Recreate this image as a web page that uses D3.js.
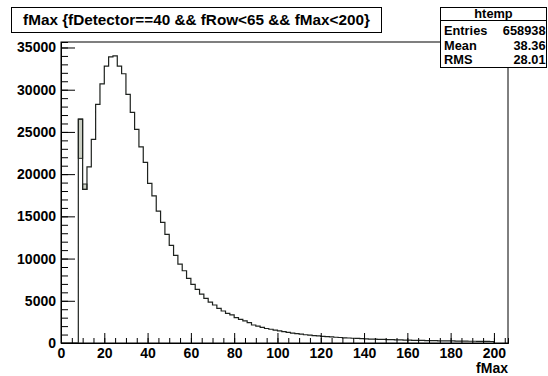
<!DOCTYPE html>
<html>
<head>
<meta charset="utf-8">
<script src="https://cdn.jsdelivr.net/npm/d3@7"></script>
<style>
  html, body { margin: 0; padding: 0; background: #fff; }
  svg { display: block; }
  text { font-family: "Liberation Sans", Arial, Helvetica, sans-serif; font-weight: bold; fill: #000; }
</style>
</head>
<body>
<svg id="chart" width="548" height="376"></svg>
<script>
// ---- data ----
const titleText = "fMax {fDetector==40 && fRow<65 && fMax<200}";
const xTitle = "fMax";
const binWidth = 2;
const binStart = 0;
// counts per bin: [0,2), [2,4), ... [198,200)
const counts = [
  0, 0, 0, 0, 26520, 18200, 20870, 24120, 28260, 30700,
  32800, 33900, 34000, 32800, 31890, 29450, 27310, 25300, 23220, 21390,
  18910, 17430, 15630, 14290, 12870, 11570, 10380, 9350, 8560, 7660,
  6950, 6360, 5800, 5290, 4850, 4500, 4110, 3790, 3520, 3320,
  3000, 2810, 2610, 2410, 2130, 2010, 1850, 1720, 1630, 1530,
  1430, 1340, 1250, 1180, 1110, 1040, 980, 930, 880, 840,
  790, 750, 720, 680, 650, 610, 590, 560, 540, 510,
  490, 470, 450, 430, 420, 400, 390, 370, 360, 350,
  330, 320, 310, 300, 290, 280, 270, 260, 255, 245,
  240, 230, 225, 215, 210, 205, 195, 190, 185, 180
];
// second (overlaid) outline in the first bins, shaded between the two
const overlayBinStarts = [8, 10];
const overlayCounts = [21870, 18830];
const yMajorTicks = [0, 5000, 10000, 15000, 20000, 25000, 30000, 35000];
const xMajorTicks = [0, 20, 40, 60, 80, 100, 120, 140, 160, 180, 200];
const statsName = "htemp";
const statsLabels = ["Entries", "Mean", "RMS"];
const statsValues = ["658938", "38.36", "28.01"];

// ---- layout ----
const frame = { left: 61, right: 508, top: 42, bottom: 343 };
const xDomainMax = 206.5;
const yDomainMax = 35650;

const svg = d3.select("#chart");
const x = d3.scaleLinear().domain([0, xDomainMax]).range([frame.left, frame.right]);
const y = d3.scaleLinear().domain([0, yDomainMax]).range([frame.bottom, frame.top]);

// frame box
svg.append("rect")
  .attr("x", frame.left).attr("y", frame.top)
  .attr("width", frame.right - frame.left).attr("height", frame.bottom - frame.top)
  .attr("fill", "none").attr("stroke", "#000").attr("stroke-width", 1);

// overlay shaded boxes
const bins = counts.map((v, i) => ({ x0: binStart + i * binWidth, v }));
overlayBinStarts.forEach((b, i) => {
  const main = bins.find(d => d.x0 === b).v;
  const o = overlayCounts[i];
  svg.append("rect")
    .attr("x", x(b)).attr("width", x(b + binWidth) - x(b))
    .attr("y", y(Math.max(main, o))).attr("height", Math.abs(y(main) - y(o)))
    .attr("fill", "#cbcfc4").attr("stroke", "#2a2f2a").attr("stroke-width", 1);
});

// histogram outline
const pts = bins.map(d => [d.x0, d.v]);
pts.push([binStart + counts.length * binWidth, 0]);
const line = d3.line().x(d => x(d[0])).y(d => y(d[1])).curve(d3.curveStepAfter);
svg.append("path").datum(pts)
  .attr("d", line)
  .attr("fill", "none").attr("stroke", "#1e221e").attr("stroke-width", 1.2);

// axes
const yMinor = d3.range(0, yDomainMax, 1000);
const xMinor = d3.range(0, xDomainMax, 5);

function styleAxis(g) {
  g.selectAll("path.domain").attr("stroke", "#000");
  g.selectAll(".tick line").attr("stroke", "#000");
  g.selectAll("text").attr("font-size", 14).attr("font-family", "Liberation Sans, Arial, sans-serif").attr("font-weight", "bold").attr("fill", "#000");
}

svg.append("g").attr("transform", `translate(${frame.left},0)`)
  .call(d3.axisLeft(y).tickValues(yMinor).tickSize(-7).tickFormat(""))
  .call(styleAxis);
svg.append("g").attr("transform", `translate(${frame.left},0)`)
  .call(d3.axisLeft(y).tickValues(yMajorTicks).tickSizeInner(-14).tickSizeOuter(0).tickPadding(5).tickFormat(d3.format("d")))
  .call(styleAxis);

svg.append("g").attr("transform", `translate(0,${frame.bottom})`)
  .call(d3.axisBottom(x).tickValues(xMinor).tickSize(-5).tickFormat(""))
  .call(styleAxis);
svg.append("g").attr("transform", `translate(0,${frame.bottom})`)
  .call(d3.axisBottom(x).tickValues(xMajorTicks).tickSizeInner(-10).tickSizeOuter(0).tickPadding(5).tickFormat(d3.format("d")))
  .call(styleAxis);

// x axis title
svg.append("text").attr("x", frame.right).attr("y", 372.5)
  .attr("text-anchor", "end").attr("font-size", 14).text(xTitle);

// title box
svg.append("rect").attr("x", 11.5).attr("y", 7.5).attr("width", 370).attr("height", 25)
  .attr("fill", "#fff").attr("stroke", "#000").attr("stroke-width", 1);
svg.append("text").attr("x", 196.5).attr("y", 25.3)
  .attr("text-anchor", "middle").attr("font-size", 15.3).text(titleText);

// stats box
const sb = { x: 440.5, y: 7.5, w: 106, h: 60 };
svg.append("rect").attr("x", sb.x).attr("y", sb.y).attr("width", sb.w).attr("height", sb.h)
  .attr("fill", "#fff").attr("stroke", "#000").attr("stroke-width", 1);
svg.append("line").attr("x1", sb.x).attr("x2", sb.x + sb.w).attr("y1", 20.5).attr("y2", 20.5)
  .attr("stroke", "#000");
svg.append("text").attr("x", sb.x + sb.w / 2).attr("y", 18)
  .attr("text-anchor", "middle").attr("font-size", 12.8).text(statsName);
const rowY = [35, 50, 64];
statsLabels.forEach((l, i) => {
  svg.append("text").attr("x", 444).attr("y", rowY[i]).attr("font-size", 12.8).text(l);
  svg.append("text").attr("x", 545.5).attr("y", rowY[i]).attr("text-anchor", "end").attr("font-size", 12.8).text(statsValues[i]);
});
</script>
</body>
</html>
